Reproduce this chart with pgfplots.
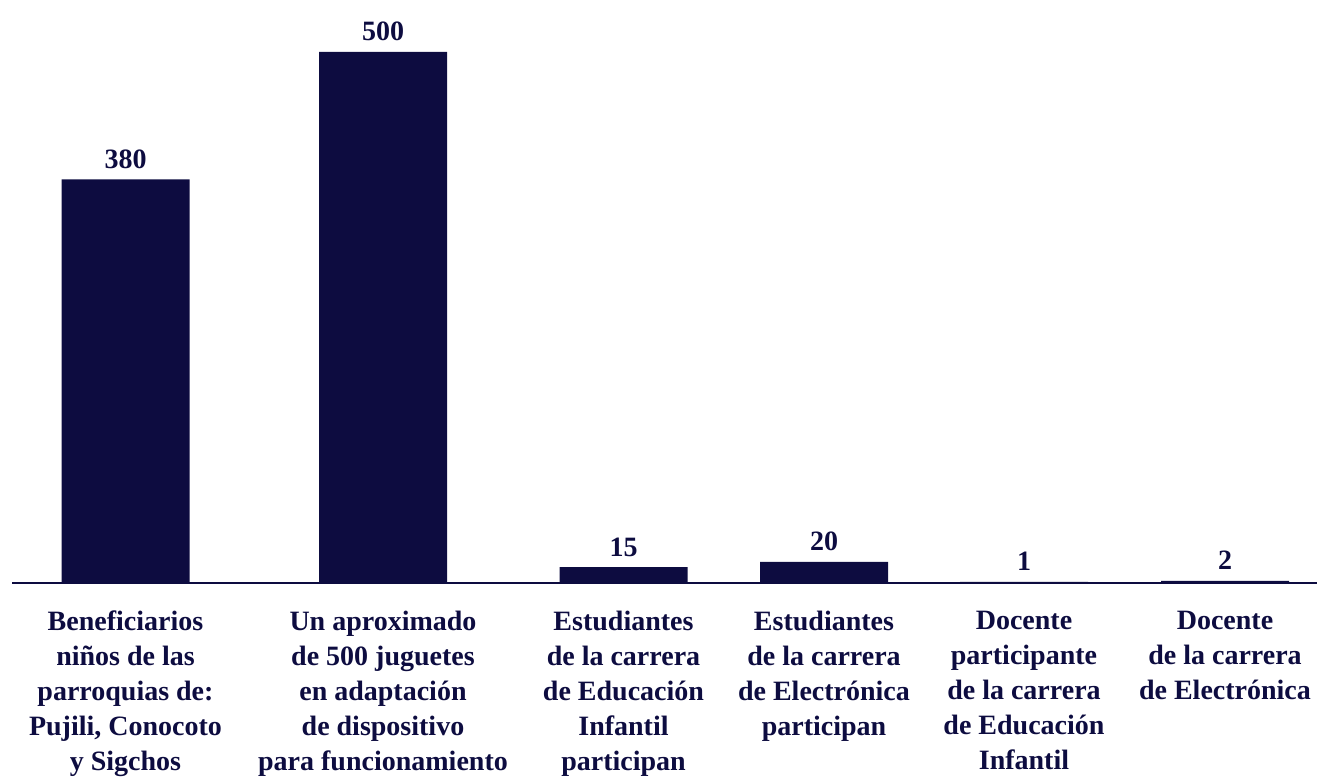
\documentclass[border=0pt]{standalone}
\usepackage{fontspec}
\setmainfont{Liberation Serif}
\usepackage{pgfplots}
\pgfplotsset{compat=1.18}
\definecolor{navy}{RGB}{13,12,64}
\begin{document}
\begin{tikzpicture}
\begin{axis}[
  width=658.5pt, height=388.5pt, scale only axis,
  xmin=0, xmax=1317,
  ymin=-182.67, ymax=548.96,
  axis x line=middle, axis y line=none,
  x axis line style={draw=none},
  xtick={125.5,383,623.5,824,1024,1225},
  xticklabels={
    {Beneficiarios\\niños de las\\parroquias de:\\Pujili, Conocoto\\y Sigchos},
    {Un aproximado\\de 500 juguetes\\en adaptación\\de dispositivo\\para funcionamiento},
    {Estudiantes\\de la carrera\\de Educación\\Infantil\\participan},
    {Estudiantes\\de la carrera\\de Electrónica\\participan},
    {Docente\\participante\\de la carrera\\de Educación\\Infantil},
    {Docente\\de la carrera\\de Electrónica}},
  major tick length=0pt,
  xticklabel style={font=\fontsize{14}{17.5}\selectfont\bfseries, align=center, text=navy, anchor=north, yshift=-10.5pt},
  ybar, bar width=64pt,
  /pgf/number format/assume math mode=true,
  nodes near coords,
  every node near coord/.append style={font=\fontsize{14}{17}\selectfont\bfseries, text=navy, anchor=base, yshift=5.5pt},
  clip=false,
]
\addplot[fill=navy, draw=none] coordinates {(125.5,380) (383,500) (623.5,15) (824,20) (1024,1) (1225,2)};
\draw[navy, line width=1.3pt] (axis cs:12,0) -- (axis cs:1317,0);
\end{axis}
\pgfresetboundingbox
\path (current axis.south west) rectangle (current axis.north east);
\end{tikzpicture}
\end{document}
